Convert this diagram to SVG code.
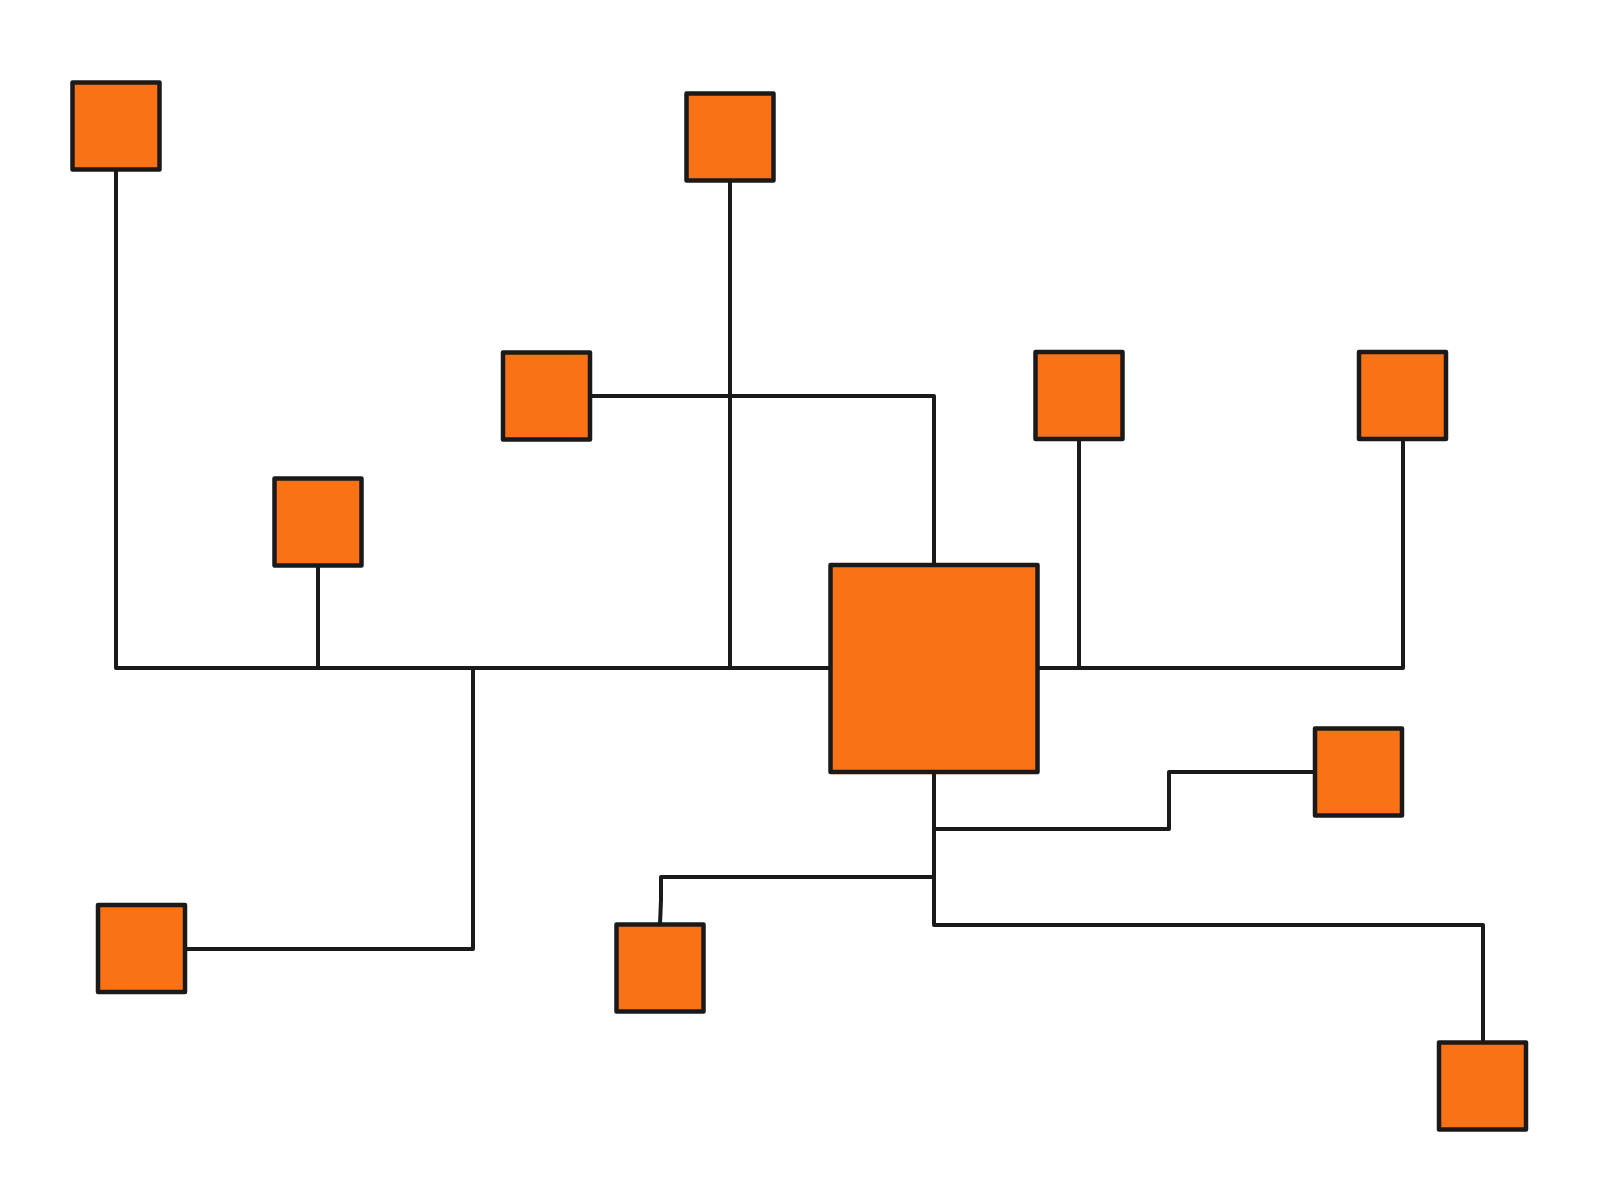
<svg xmlns="http://www.w3.org/2000/svg" width="1600" height="1200" viewBox="0 0 1600 1200">
<style>
.node{fill:#F97316;stroke:#1a1a1a;stroke-width:4.5;stroke-linejoin:round}
.edge{fill:none;stroke:#1a1a1a;stroke-width:4;stroke-linecap:round;stroke-linejoin:round}
</style>
<rect width="1600" height="1200" fill="#ffffff"/>
<g id="connectors">
<path class="edge" d="M116 170 V668 H830"/>
<path class="edge" d="M318 566 V668"/>
<path class="edge" d="M730 181 V668"/>
<path class="edge" d="M590 396 H934 V565"/>
<path class="edge" d="M473 668 V949 H185"/>
<path class="edge" d="M1038 668 H1403 V439"/>
<path class="edge" d="M1079 439 V668"/>
<path class="edge" d="M934 772 V829 H1169 V772 H1315"/>
<path class="edge" d="M934 829 V877 H661 V900 L660 924"/>
<path class="edge" d="M934 877 V925 H1483 V1042"/>
</g>
<g id="n1"><rect class="node" x="72.5" y="82.5" width="87" height="87"/></g>
<g id="n2"><rect class="node" x="686.5" y="93.5" width="87" height="87"/></g>
<g id="n3"><rect class="node" x="503" y="352.5" width="87" height="87"/></g>
<g id="n4"><rect class="node" x="274.5" y="478.5" width="87" height="87"/></g>
<g id="n5"><rect class="node" x="1035.5" y="352" width="87" height="87"/></g>
<g id="n6"><rect class="node" x="1359" y="352" width="87" height="87"/></g>
<g id="center"><rect class="node" x="830.5" y="565" width="207" height="207"/></g>
<g id="n7"><rect class="node" x="1315" y="728.5" width="87" height="87"/></g>
<g id="n8"><rect class="node" x="98" y="905" width="87" height="87"/></g>
<g id="n9"><rect class="node" x="616.5" y="924.5" width="87" height="87"/></g>
<g id="n10"><rect class="node" x="1439" y="1042.5" width="87" height="87"/></g>
</svg>
